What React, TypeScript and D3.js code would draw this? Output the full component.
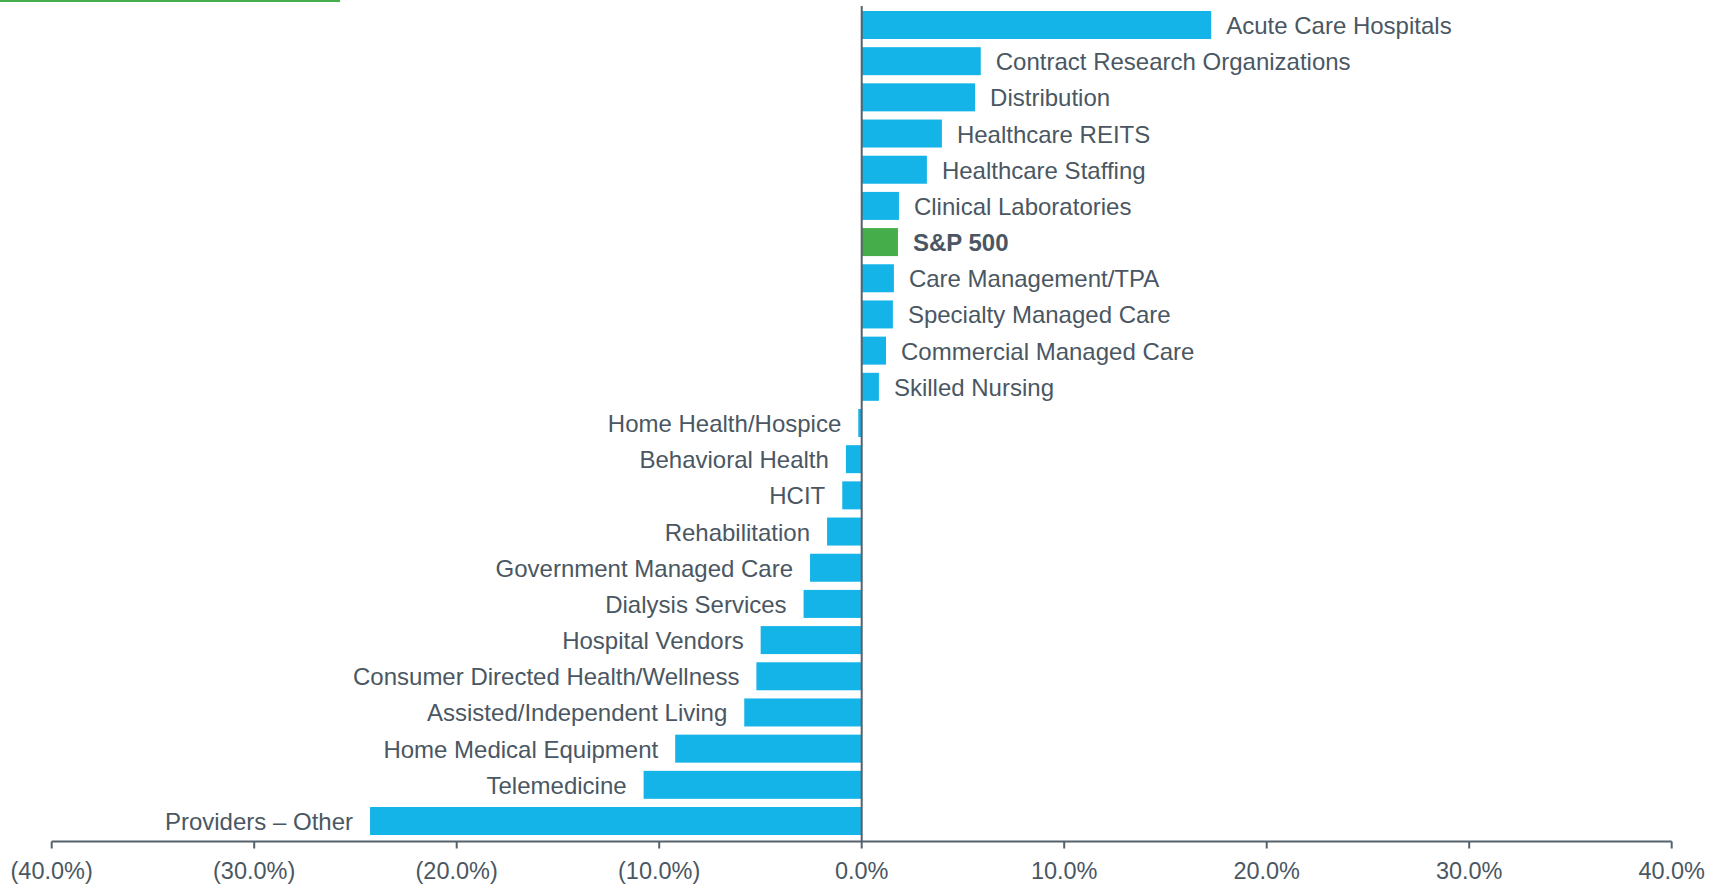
import React from "react";
import * as d3 from "d3";

const categories = [
  "Acute Care Hospitals",
  "Contract Research Organizations",
  "Distribution",
  "Healthcare REITS",
  "Healthcare Staffing",
  "Clinical Laboratories",
  "S&P 500",
  "Care Management/TPA",
  "Specialty Managed Care",
  "Commercial Managed Care",
  "Skilled Nursing",
  "Home Health/Hospice",
  "Behavioral Health",
  "HCIT",
  "Rehabilitation",
  "Government Managed Care",
  "Dialysis Services",
  "Hospital Vendors",
  "Consumer Directed Health/Wellness",
  "Assisted/Independent Living",
  "Home Medical Equipment",
  "Telemedicine",
  "Providers – Other",
];

const values = [
  17.26, 5.88, 5.6, 3.96, 3.22, 1.84, 1.79, 1.59, 1.54, 1.2, 0.85,
  -0.17, -0.78, -0.96, -1.71, -2.55, -2.87, -4.99, -5.2, -5.8, -9.21, -10.77, -24.28,
];

const highlight = "S&P 500";
const tickValues = [-40, -30, -20, -10, 0, 10, 20, 30, 40];

const W = 1721;
const H = 885;
const BLUE = "#14b4e8";
const GREEN = "#45ae4b";
const TEXT = "#4a5763";
const AXIS = "#55616b";
const FONT = "'Liberation Sans', Arial, Helvetica, sans-serif";

const fmt = (v: number) => {
  const s = Math.abs(v).toFixed(1) + "%";
  return v < 0 ? `(${s})` : s;
};

export default function App() {
  const x = d3.scaleLinear().domain([-40, 40]).range([51.7, 1671.7]);
  const y = d3
    .scaleBand<string>()
    .domain(categories)
    .range([6.9, 839.1])
    .paddingInner(0.226)
    .paddingOuter(0.113);
  const axisY = 841.5;
  const x0 = x(0);

  return (
    <svg
      width={W}
      height={H}
      style={{ position: "absolute", left: 0, top: 0, background: "#fff" }}
      fontFamily={FONT}
    >
      <rect x={0} y={0} width={340} height={2} fill={GREEN} />
      {categories.map((c, i) => {
        const v = values[i];
        const bx = Math.min(x(v), x0);
        const bw = Math.abs(x(v) - x0);
        const by = y(c)!;
        const bh = y.bandwidth();
        const cy = by + bh / 2;
        const isHi = c === highlight;
        return (
          <g key={c}>
            <rect x={bx} y={by} width={bw} height={bh} fill={isHi ? GREEN : BLUE} />
            <text
              x={v >= 0 ? x(v) + 15 : x(v) - 17}
              y={cy + 9}
              textAnchor={v >= 0 ? "start" : "end"}
              fontSize={24}
              fontWeight={isHi ? "bold" : "normal"}
              fill={TEXT}
            >
              {c}
            </text>
          </g>
        );
      })}
      <line x1={x0} x2={x0} y1={6} y2={axisY} stroke={AXIS} strokeWidth={2} />
      <line x1={x(-40)} x2={x(40)} y1={axisY} y2={axisY} stroke={AXIS} strokeWidth={2} />
      {tickValues.map((t) => (
        <g key={t}>
          <line x1={x(t)} x2={x(t)} y1={axisY} y2={axisY + 7} stroke={AXIS} strokeWidth={2} />
          <text x={x(t)} y={879} textAnchor="middle" fontSize={23.5} fill={TEXT}>
            {fmt(t)}
          </text>
        </g>
      ))}
    </svg>
  );
}
